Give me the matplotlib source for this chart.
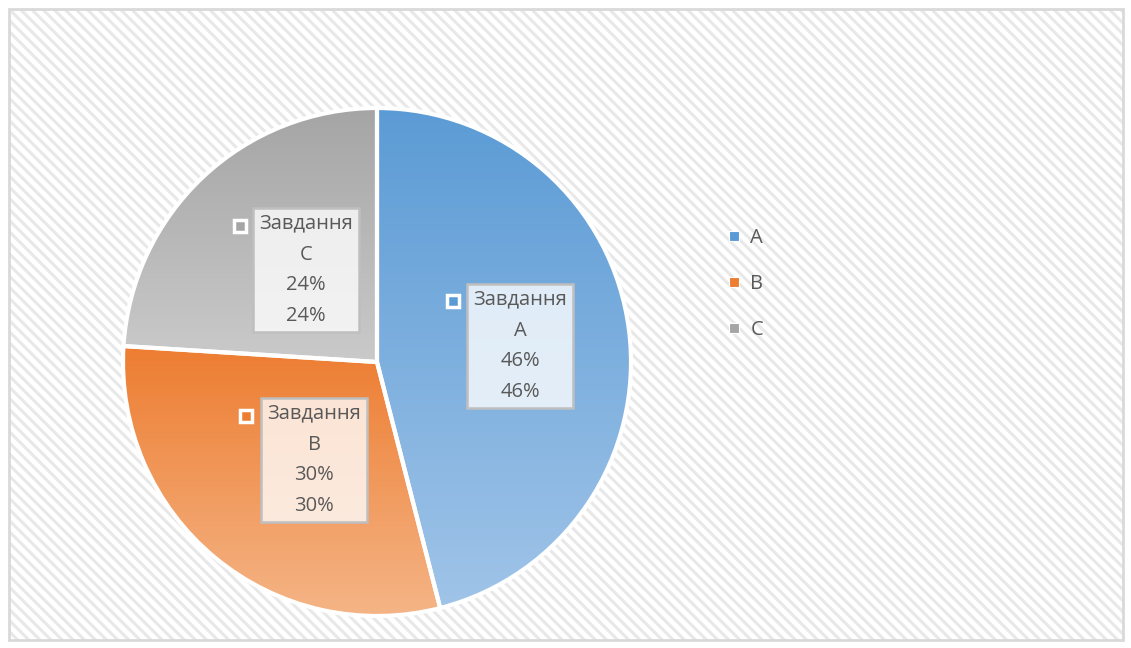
import numpy as np
import matplotlib
matplotlib.use("Agg")
import matplotlib.pyplot as plt
from matplotlib.patches import Rectangle
from matplotlib.lines import Line2D
from matplotlib.colors import LinearSegmentedColormap

# ---- data ----
categories = ["A", "B", "C"]
label_names = ["Завдання\nA", "Завдання\nB", "Завдання\nC"]
values = [46, 30, 24]
pct_labels = ["46%", "30%", "24%"]
top_colors = ["#5B9BD5", "#ED7D31", "#A5A5A5"]
bottom_colors = ["#A0C4E8", "#F5B587", "#CACACA"]

W, H = 1131, 648
plt.rcParams['hatch.linewidth'] = 2.2
fig = plt.figure(figsize=(W / 100, H / 100), dpi=100)
fig.patch.set_facecolor("white")

# background with diagonal stripes
bg = fig.add_axes([0, 0, 1, 1], zorder=-5)
bg.set_xlim(0, W)
bg.set_ylim(H, 0)
bg.axis("off")
bg.add_patch(Rectangle((9, 9), 1114, 631, facecolor="white", edgecolor="#E8E8E8",
                       hatch="\\\\\\", linewidth=0))
bg.add_patch(Rectangle((9, 9), 1114, 631, facecolor="none", edgecolor="#D9D9D9",
                       linewidth=2))

# pie axes
cx, cy, R = 377, 362, 254
ax = fig.add_axes([(cx - R) / W, (H - cy - R) / H, 2 * R / W, 2 * R / H])
ax.set_xlim(-1, 1)
ax.set_ylim(-1, 1)
ax.axis("off")

wedges, _ = ax.pie(values, startangle=90, counterclock=False, radius=1,
                   wedgeprops=dict(edgecolor="white", linewidth=3))

grad = np.linspace(0, 1, 256).reshape(-1, 1)
for w, c0, c1 in zip(wedges, top_colors, bottom_colors):
    path = w.get_path()
    verts = w.get_patch_transform().transform(path.vertices)
    x0, y0 = verts.min(axis=0)
    x1, y1 = verts.max(axis=0)
    cmap = LinearSegmentedColormap.from_list("g", [c1, c0])
    im = ax.imshow(grad, cmap=cmap, extent=[x0, x1, y0, y1], origin="lower",
                   aspect="auto", zorder=1, interpolation="bicubic")
    im.set_clip_path(w)
    w.set_facecolor("none")
    w.set_zorder(2)
ax.set_xlim(-1, 1)
ax.set_ylim(-1, 1)

# data labels
label_pos = [(0.563, 0.063), (-0.248, -0.386), (-0.28, 0.362)]
key_pos = [(0.299, 0.240), (-0.516, -0.213), (-0.539, 0.535)]
for i in range(len(values)):
    txt = f"{label_names[i]}\n{pct_labels[i]}\n{pct_labels[i]}"
    ax.text(label_pos[i][0], label_pos[i][1], txt, ha="center", va="center",
            fontsize=14.5, family="Open Sans", color="#595959", linespacing=1.72,
            zorder=5,
            bbox=dict(boxstyle="square,pad=0.3", facecolor=(1, 1, 1, 0.78),
                      edgecolor="#BFBFBF", linewidth=1.8))
    ax.plot(key_pos[i][0], key_pos[i][1], marker="s", markersize=9,
            markerfacecolor=top_colors[i], markeredgecolor="white",
            markeredgewidth=2.5, zorder=6)

# legend
handles = [Line2D([], [], linestyle="none", marker="s", markersize=6.5,
                  markerfacecolor=top_colors[i], markeredgecolor="white",
                  markeredgewidth=0.8) for i in range(len(categories))]
fig.legend(handles, categories, loc="center left", bbox_to_anchor=(706 / W, 1 - 284 / H),
           frameon=False, handletextpad=0.3, handlelength=1.0, labelspacing=1.27,
           prop=dict(family="Open Sans", size=14.5), labelcolor="#595959")

fig.savefig("out.png", dpi=100)
